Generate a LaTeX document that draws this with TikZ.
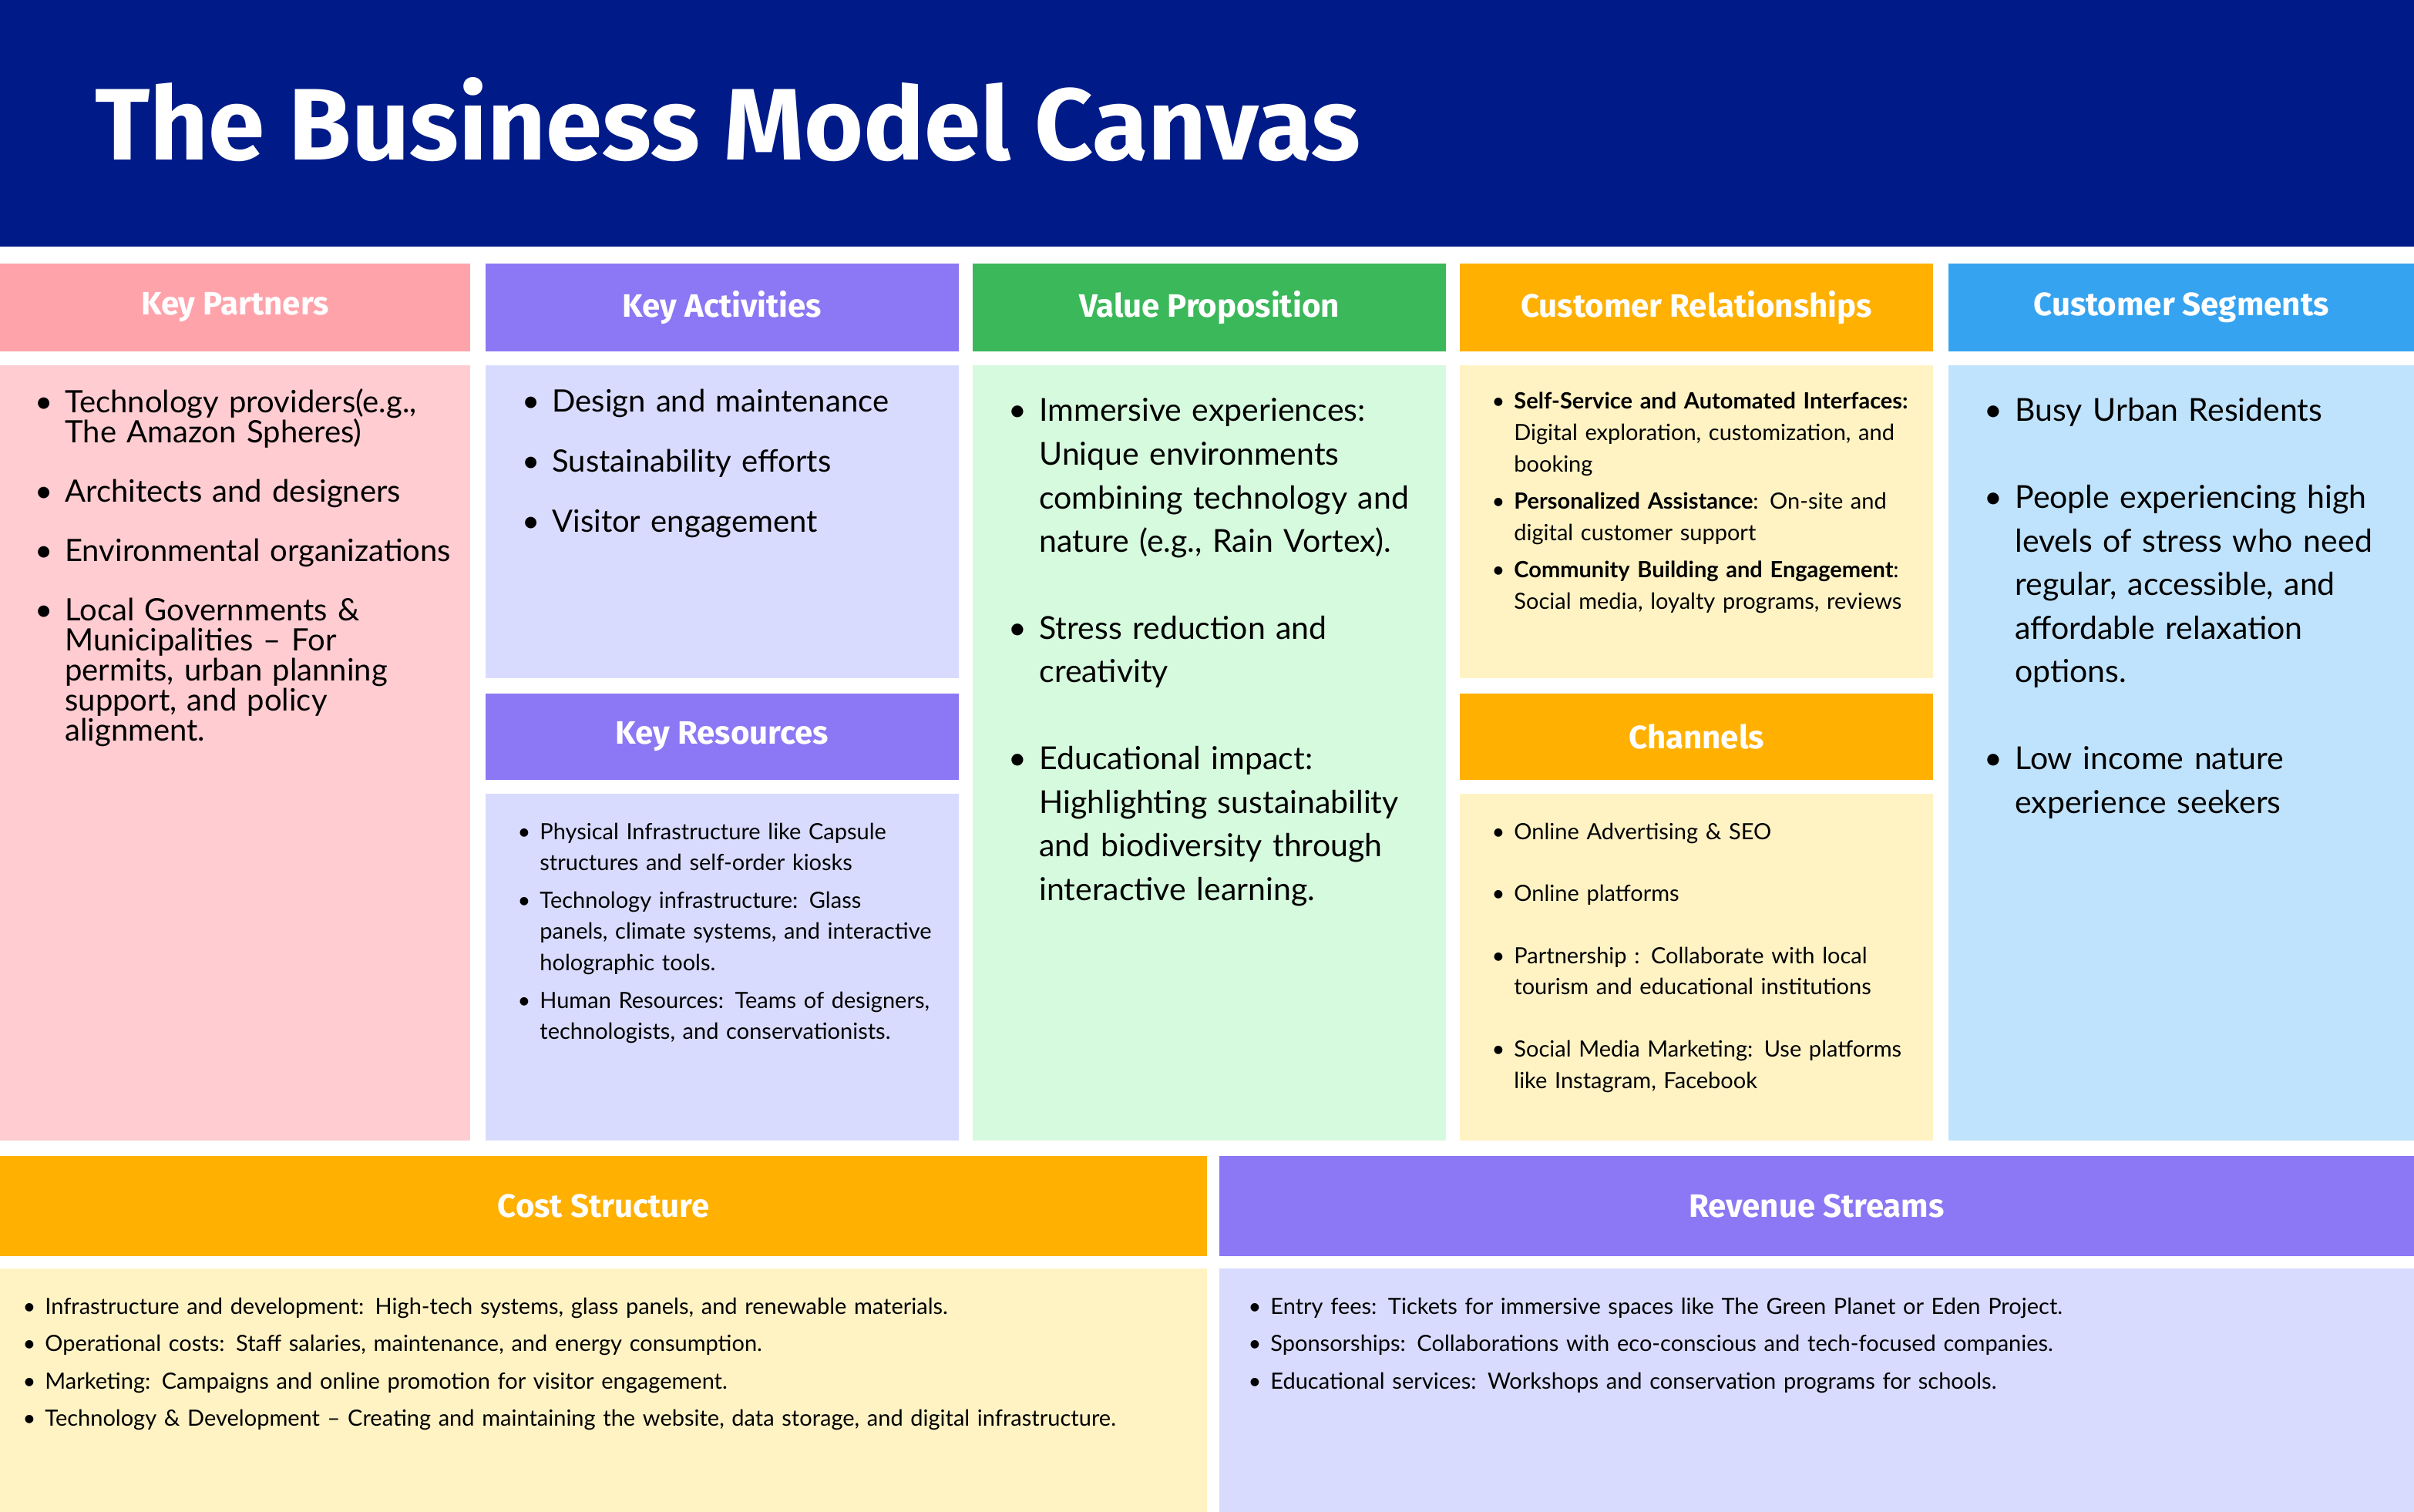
\documentclass[tikz,border=0pt]{standalone}
\usepackage{fontspec}
\usepackage{enumitem}
\setmainfont{Lato}
\newfontfamily\headf{Fira Sans}
\definecolor{navy}{RGB}{0,27,136}
\definecolor{pinkH}{RGB}{255,163,171}\definecolor{pinkB}{RGB}{255,204,209}
\definecolor{purH}{RGB}{140,120,245}\definecolor{purB}{RGB}{217,219,254}
\definecolor{grnH}{RGB}{59,184,90}\definecolor{grnB}{RGB}{214,250,221}
\definecolor{orH}{RGB}{255,176,0}\definecolor{orB}{RGB}{255,243,196}
\definecolor{bluH}{RGB}{54,163,240}\definecolor{bluB}{RGB}{192,227,253}
\setlist[itemize]{label=\textbullet,leftmargin=17pt,labelsep=8pt,topsep=0pt,partopsep=0pt,parsep=0pt}
\tikzset{
 boxx/.style={anchor=north west,inner sep=0pt,draw=none},
 hdtxt/.style={text=white,font=\headf\bfseries\fontsize{21}{24}\selectfont},
 body/.style={anchor=north west,inner sep=0pt,align=left,text=black},
}
\newcommand\bx[6]{\fill[#6] (#2,#3) rectangle (#4,#5); \coordinate (#1) at ({(#2+#4)/2},{(#3+#5)/2});}
\begin{document}
\begin{tikzpicture}[x=1pt,y=-1pt]
\useasboundingbox (0,0) rectangle (1566,981);
\fill[white] (0,0) rectangle (1566,981);
\bx{hdr}{0}{0}{1566}{160}{navy}
\node[anchor=base west,text=white,font=\headf\bfseries\fontsize{66}{70}\selectfont] (title) at (58,104) {The Business Model Canvas};
% column headers
\bx{kpH}{0}{171}{305}{228}{pinkH}\node[hdtxt] at (kpH){Key Partners};
\bx{kaH}{315}{171}{622}{228}{purH}\node[hdtxt] at (kaH){Key Activities};
\bx{vpH}{631}{171}{938}{228}{grnH}\node[hdtxt] at (vpH){Value Proposition};
\bx{crH}{947}{171}{1254}{228}{orH}\node[hdtxt] at (crH){Customer Relationships};
\bx{csH}{1264}{171}{1566}{228}{bluH}\node[hdtxt] at (csH){Customer Segments};
% bodies
\bx{kpB}{0}{237}{305}{740}{pinkB}
\bx{kaB}{315}{237}{622}{440}{purB}
\bx{krH}{315}{450}{622}{506}{purH}\node[hdtxt] at (krH){Key Resources};
\bx{krB}{315}{515}{622}{740}{purB}
\bx{vpB}{631}{237}{938}{740}{grnB}
\bx{crB}{947}{237}{1254}{440}{orB}
\bx{chH}{947}{450}{1254}{506}{orH}\node[hdtxt] at (chH){Channels};
\bx{chB}{947}{515}{1254}{740}{orB}
\bx{csB}{1264}{237}{1566}{740}{bluB}
\bx{cstH}{0}{750}{783}{815}{orH}\node[hdtxt] at (cstH){Cost Structure};
\bx{cstB}{0}{823}{783}{981}{orB}
\bx{revH}{791}{750}{1566}{815}{purH}\node[hdtxt] at (revH){Revenue Streams};
\bx{revB}{791}{823}{1566}{981}{purB}
% texts
\node[body,text width=270pt,font=\fontsize{20}{19.5}\selectfont] (kpT) at (25,248){%
\begin{itemize}[itemsep=19pt]
\item Technology providers(e.g., The Amazon Spheres)
\item Architects and designers
\item Environmental organizations
\item Local Governments \& Municipalities – For permits, urban planning support, and policy alignment.
\end{itemize}};
\node[body,text width=280pt,font=\fontsize{20}{20}\selectfont] (kaT) at (341,247){%
\begin{itemize}[itemsep=19pt]
\item Design and maintenance
\item Sustainability efforts
\item Visitor engagement
\end{itemize}};
\node[body,text width=270pt,font=\fontsize{14.5}{20.3}\selectfont] (krT) at (335,524){%
\begin{itemize}[leftmargin=15pt,labelsep=6pt]
\item Physical Infrastructure like Capsule structures and self-order kiosks
\item Technology infrastructure: Glass panels, climate systems, and interactive holographic tools.
\item Human Resources: Teams of designers, technologists, and conservationists.
\end{itemize}};
\node[body,text width=275pt,font=\fontsize{20.5}{28.3}\selectfont] (vpT) at (657,245){%
\begin{itemize}[itemsep=28pt]
\item Immersive experiences: Unique environments combining technology and nature (e.g., Rain Vortex).
\item Stress reduction and creativity
\item Educational impact: Highlighting sustainability and biodiversity through interactive learning.
\end{itemize}};
\node[body,text width=285pt,font=\fontsize{14.5}{20.3}\selectfont] (crT) at (967,245){%
\begin{itemize}[leftmargin=15pt,labelsep=6pt]
\item \textbf{Self-Service and Automated Interfaces:} Digital exploration, customization, and booking
\item \textbf{Personalized Assistance}: On-site and digital customer support
\item \textbf{Community Building and Engagement}: Social media, loyalty programs, reviews
\end{itemize}};
\node[body,text width=285pt,font=\fontsize{14.5}{20.3}\selectfont] (chT) at (967,524){%
\begin{itemize}[leftmargin=15pt,labelsep=6pt,itemsep=20pt]
\item Online Advertising \& SEO
\item Online platforms
\item Partnership : Collaborate with local tourism and educational institutions
\item Social Media Marketing: Use platforms like Instagram, Facebook
\end{itemize}};
\node[body,text width=255pt,font=\fontsize{20.5}{28.3}\selectfont] (csT) at (1290,245){%
\begin{itemize}[itemsep=28pt]
\item Busy Urban Residents
\item People experiencing high levels of stress who need regular, accessible, and affordable relaxation options.
\item Low income nature experience seekers
\end{itemize}};
\node[body,text width=770pt,font=\fontsize{14.5}{20.3}\selectfont] (cstT) at (14,832){%
\begin{itemize}[leftmargin=15pt,labelsep=6pt]
\item Infrastructure and development: High-tech systems, glass panels, and renewable materials.
\item Operational costs: Staff salaries, maintenance, and energy consumption.
\item Marketing: Campaigns and online promotion for visitor engagement.
\item Technology \& Development – Creating and maintaining the website, data storage, and digital infrastructure.
\end{itemize}};
\node[body,text width=760pt,font=\fontsize{14.5}{20.3}\selectfont] (revT) at (809,832){%
\begin{itemize}[leftmargin=15pt,labelsep=6pt]
\item Entry fees: Tickets for immersive spaces like The Green Planet or Eden Project.
\item Sponsorships: Collaborations with eco-conscious and tech-focused companies.
\item Educational services: Workshops and conservation programs for schools.
\end{itemize}};
\end{tikzpicture}
\end{document}
